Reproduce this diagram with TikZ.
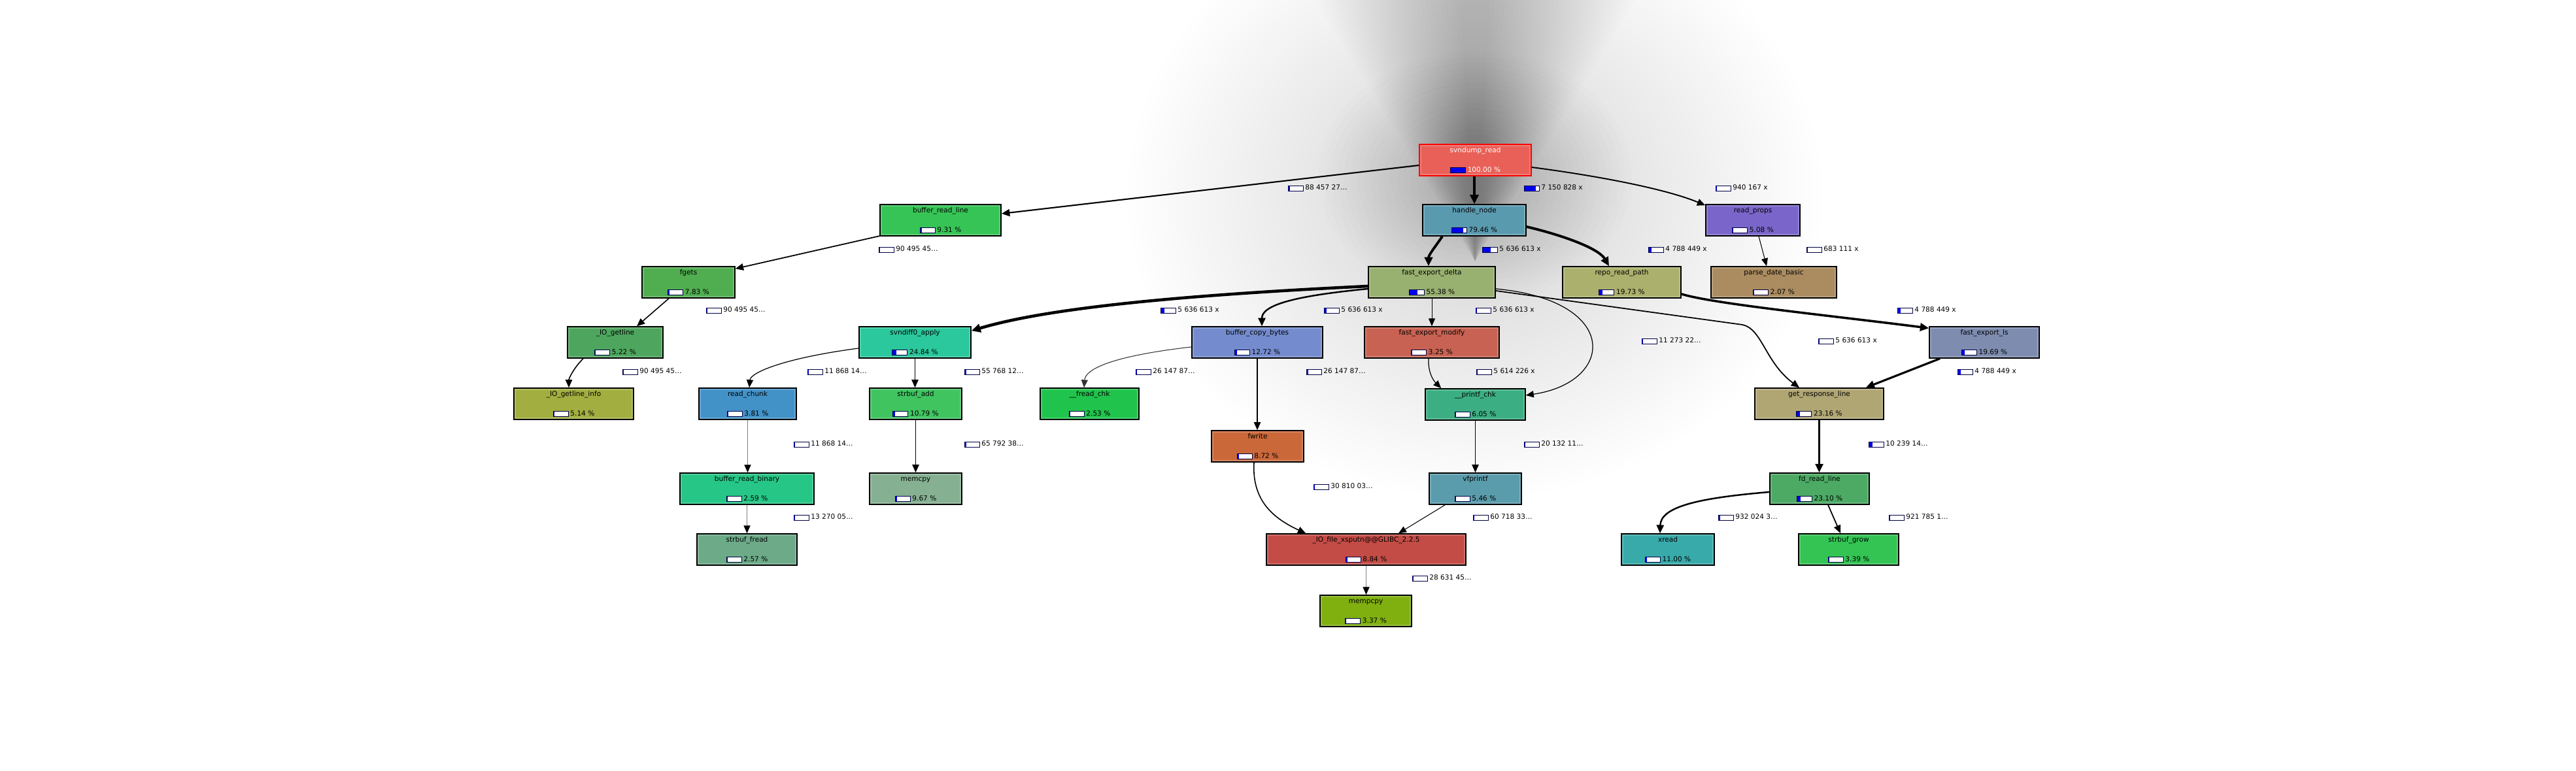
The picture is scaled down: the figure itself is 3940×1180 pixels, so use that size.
\documentclass[tikz,border=0pt]{standalone}
\usepackage{fontspec}
\setmainfont{DejaVu Sans}
\usetikzlibrary{arrows.meta,calc}
\newlength\barw \setlength\barw{6.2pt}
\definecolor{barb}{RGB}{0,0,70}
\definecolor{barf}{RGB}{0,0,240}
\newcommand\cbar[1]{\raisebox{-0.35pt}{\setlength\fboxsep{0pt}\setlength\fboxrule{0.3pt}\fcolorbox{barb}{white}{\textcolor{barf}{\rule{#1\barw}{2.0pt}}\hspace{\dimexpr\barw-#1\barw\relax}}}}
\newcommand\nfont{\fontsize{3.0}{8.53}\selectfont}
\newcommand\nm[1]{\rule{0pt}{2.4pt}#1}
\newcommand\pc[2]{\cbar{#1}\hspace{0.8pt}#2 \%}
\newcommand\el[2]{\cbar{#1}\hspace{0.8pt}#2}
\definecolor{cSR}{RGB}{233,96,88}
\definecolor{cHN}{RGB}{90,154,175}
\definecolor{cFED}{RGB}{152,176,112}
\definecolor{cRRP}{RGB}{171,177,108}
\definecolor{cRP}{RGB}{122,102,202}
\definecolor{cPDB}{RGB}{171,140,96}
\definecolor{cBRL}{RGB}{54,196,86}
\definecolor{cFG}{RGB}{80,174,80}
\definecolor{cIOG}{RGB}{78,166,94}
\definecolor{cIOGI}{RGB}{162,174,64}
\definecolor{cSDA}{RGB}{42,200,156}
\definecolor{cRC}{RGB}{66,146,200}
\definecolor{cSBA}{RGB}{64,196,96}
\definecolor{cBRB}{RGB}{38,198,134}
\definecolor{cMC}{RGB}{134,176,146}
\definecolor{cSFR}{RGB}{108,170,136}
\definecolor{cFRC}{RGB}{32,196,76}
\definecolor{cBCB}{RGB}{116,140,206}
\definecolor{cFEM}{RGB}{200,98,82}
\definecolor{cPC}{RGB}{60,174,132}
\definecolor{cFW}{RGB}{202,104,58}
\definecolor{cVFP}{RGB}{90,156,172}
\definecolor{cXS}{RGB}{196,76,70}
\definecolor{cMP}{RGB}{128,176,16}
\definecolor{cFEL}{RGB}{126,140,176}
\definecolor{cGRL}{RGB}{176,166,116}
\definecolor{cFRL}{RGB}{76,170,100}
\definecolor{cXR}{RGB}{56,170,170}
\definecolor{cSG}{RGB}{52,196,84}
\begin{document}
\begin{tikzpicture}[x=0.01cm,y=-0.01cm,
  fn/.style={rectangle, draw=black, line width=0.42pt, inner sep=0pt, minimum height=0.48cm,
    align=center, font=\nfont, text=black,
    path picture={\draw[white, opacity=0.2, line width=1.8pt] (path picture bounding box.south west) rectangle (path picture bounding box.north east);}},
  elab/.style={anchor=west, inner sep=0pt, font=\nfont, text=black},
  ed/.style={draw=black, -{Triangle[length=3.2pt 0.6, width=2.6pt 0.8]}},
  edg/.style={draw=black!50, -{Triangle[length=3.2pt 0.6, width=2.6pt 0.8, color=black]}}]
\useasboundingbox (0,0) rectangle (3940,1180);
\begin{scope}
\clip (0,0) rectangle (3940,1180);
\fill[white] (0,0) rectangle (3940,1180);
\foreach \i in {0,...,39} {
  \pgfmathsetmacro\rx{5.3-0.12*\i}
  \pgfmathsetmacro\ry{4.6-0.102*\i}
  \fill[black, fill opacity=0.005] (2256,300) ellipse [x radius=\rx cm, y radius=\ry cm];
}
\foreach \i in {0,...,29} {
  \pgfmathsetmacro\w{250-7.8*\i}
  \fill[black, fill opacity=0.0068] ({2256-\w},-10) -- ({2256+\w},-10) -- (2256,400) -- cycle;
}
\foreach \i in {0,...,19} {
  \pgfmathsetmacro\rx{2.4-0.1*\i}
  \pgfmathsetmacro\ry{1.9-0.078*\i}
  \fill[black, fill opacity=0.006] (2256,270) ellipse [x radius=\rx cm, y radius=\ry cm];
}
\end{scope}
% nodes
\node[fn, fill=cSR, draw=red, text=white, minimum width=1.71cm] (sr) at (2256.5,245) {\nm{svndump\_read}\\\pc{1}{100.00}};
\node[fn, fill=cHN, minimum width=1.58cm] (hn) at (2255,337) {\nm{handle\_node}\\\pc{0.7946}{79.46}};
\node[fn, fill=cFED, minimum width=1.94cm] (fed) at (2190,432) {\nm{fast\_export\_delta}\\\pc{0.5538}{55.38}};
\node[fn, fill=cRRP, minimum width=1.81cm] (rrp) at (2480.5,432) {\nm{repo\_read\_path}\\\pc{0.1973}{19.73}};
\node[fn, fill=cRP, minimum width=1.44cm] (rp) at (2681,337) {\nm{read\_props}\\\pc{0.0508}{5.08}};
\node[fn, fill=cPDB, minimum width=1.92cm] (pdb) at (2713,432) {\nm{parse\_date\_basic}\\\pc{0.0207}{2.07}};
\node[fn, fill=cBRL, minimum width=1.85cm] (brl) at (1438.5,337) {\nm{buffer\_read\_line}\\\pc{0.0931}{9.31}};
\node[fn, fill=cFG, minimum width=1.42cm] (fg) at (1053,432) {\nm{fgets}\\\pc{0.0783}{7.83}};
\node[fn, fill=cIOG, minimum width=1.46cm] (iog) at (941,524) {\nm{\_IO\_getline}\\\pc{0.0522}{5.22}};
\node[fn, fill=cIOGI, minimum width=1.83cm] (iogi) at (877.5,618) {\nm{\_IO\_getline\_info}\\\pc{0.0514}{5.14}};
\node[fn, fill=cSDA, minimum width=1.71cm] (sda) at (1399.5,524) {\nm{svndiff0\_apply}\\\pc{0.2484}{24.84}};
\node[fn, fill=cRC, minimum width=1.49cm] (rc) at (1143.5,618) {\nm{read\_chunk}\\\pc{0.0381}{3.81}};
\node[fn, fill=cSBA, minimum width=1.41cm] (sba) at (1400.5,618) {\nm{strbuf\_add}\\\pc{0.1079}{10.79}};
\node[fn, fill=cBRB, minimum width=2.05cm] (brb) at (1142.5,748) {\nm{buffer\_read\_binary}\\\pc{0.0259}{2.59}};
\node[fn, fill=cMC, minimum width=1.41cm] (mc) at (1400.5,748) {\nm{memcpy}\\\pc{0.0967}{9.67}};
\node[fn, fill=cSFR, minimum width=1.53cm] (sfr) at (1142.5,841) {\nm{strbuf\_fread}\\\pc{0.0257}{2.57}};
\node[fn, fill=cFRC, minimum width=1.51cm] (frc) at (1666.5,618) {\nm{\_\_fread\_chk}\\\pc{0.0253}{2.53}};
\node[fn, fill=cBCB, minimum width=2.00cm] (bcb) at (1923,524) {\nm{buffer\_copy\_bytes}\\\pc{0.1272}{12.72}};
\node[fn, fill=cFEM, minimum width=2.06cm] (fem) at (2190,524) {\nm{fast\_export\_modify}\\\pc{0.0325}{3.25}};
\node[fn, fill=cPC, minimum width=1.53cm] (pc) at (2256.5,619) {\nm{\_\_printf\_chk}\\\pc{0.0605}{6.05}};
\node[fn, fill=cFW, minimum width=1.41cm] (fw) at (1923.5,683) {\nm{fwrite}\\\pc{0.0872}{8.72}};
\node[fn, fill=cVFP, minimum width=1.41cm] (vfp) at (2256.5,748) {\nm{vfprintf}\\\pc{0.0546}{5.46}};
\node[fn, fill=cXS, minimum width=3.05cm] (xs) at (2089.5,841) {\nm{\_IO\_file\_xsputn@@GLIBC\_2.2.5}\\\pc{0.0884}{8.84}};
\node[fn, fill=cMP, minimum width=1.40cm] (mp) at (2089,935) {\nm{mempcpy}\\\pc{0.0337}{3.37}};
\node[fn, fill=cFEL, minimum width=1.68cm] (fel) at (3035,524) {\nm{fast\_export\_ls}\\\pc{0.1969}{19.69}};
\node[fn, fill=cGRL, minimum width=1.97cm] (grl) at (2782.5,618) {\nm{get\_response\_line}\\\pc{0.2316}{23.16}};
\node[fn, fill=cFRL, minimum width=1.52cm] (frl) at (2783,748) {\nm{fd\_read\_line}\\\pc{0.2310}{23.10}};
\node[fn, fill=cXR, minimum width=1.42cm] (xr) at (2551,841) {\nm{xread}\\\pc{0.1100}{11.00}};
\node[fn, fill=cSG, minimum width=1.53cm] (sg) at (2827.5,841) {\nm{strbuf\_grow}\\\pc{0.0339}{3.39}};
% edges
\draw[ed, line width=0.6pt] ($(sr.west)+(0,8)$) -- ($(brl.east)+(0,-10)$);
\draw[ed, line width=1.35pt] ($(sr.south)+(-1.5,0)$) -- (hn.north);
\draw[ed, line width=0.55pt] ($(sr.east)+(0,11)$) .. controls (2450,270) and (2550,290) .. ($(rp.north west)+(0,2)$);
\draw[ed, line width=1.1pt] ($(hn.south)+(-49,0)$) .. controls (2195,378) and (2185,390) .. ($(fed.north)+(-5,0)$);
\draw[ed, line width=1.1pt] ($(hn.east)+(0,10)$) .. controls (2390,360) and (2445,380) .. ($(rrp.north)+(-19.5,0)$);
\draw[ed, line width=0.3pt] ($(rp.south)+(9,0)$) -- ($(pdb.north)+(-11,0)$);
\draw[ed, line width=0.5pt] ($(brl.south west)+(2,-1)$) -- ($(fg.north east)+(0,4)$);
\draw[ed, line width=0.45pt] ($(fg.south)+(-30,0)$) -- ($(iog.north)+(33,0)$);
\draw[ed, line width=0.45pt] ($(iog.south)+(-49,0)$) .. controls (876,565) and (870,580) .. ($(iogi.north)+(-7.5,0)$);
\draw[ed, line width=1.3pt] ($(fed.west)+(0,6)$) .. controls (1800,452) and (1600,472) .. ($(sda.north east)+(0,7)$);
\draw[ed, line width=0.7pt] ($(fed.west)+(0,10)$) .. controls (1990,452) and (1930,465) .. ($(bcb.north)+(7,0)$);
\draw[ed, line width=0.3pt] (fed.south) -- (fem.north);
\draw[ed, line width=0.35pt] ($(fed.east)+(0,10)$) .. controls (2480,460) and (2470,585) .. ($(pc.east)+(0,-14)$);
\draw[ed, line width=0.5pt] ($(fed.east)+(0,13)$) -- (2665,497) .. controls (2695,503) and (2700,555) .. ($(grl.north)+(-30.5,0)$);
\draw[ed, line width=1.0pt] ($(rrp.east)+(0,18)$) .. controls (2620,465) and (2800,483) .. ($(fel.north west)+(0,3)$);
\draw[ed, line width=0.9pt] ($(fel.south west)+(17,0)$) -- ($(grl.north east)+(-28,0)$);
\draw[ed, line width=0.9pt] (grl.south) -- (grl.south |- frl.north);
\draw[ed, line width=0.7pt] ($(frl.west)+(0,5)$) .. controls (2600,762) and (2540,775) .. ($(xr.north)+(-12,0)$);
\draw[ed, line width=0.5pt] ($(frl.south)+(13,0)$) -- ($(sg.north)+(-12.5,0)$);
\draw[ed, line width=0.35pt] ($(sda.west)+(0,9)$) .. controls (1200,548) and (1148,570) .. ($(rc.north)+(2.5,0)$);
\draw[ed, line width=0.45pt] (sda.south) -- (sda.south |- sba.north);
\draw[ed, line width=0.3pt, draw=black!80] ($(bcb.west)+(0,7)$) .. controls (1700,545) and (1660,565) .. ($(frc.north)+(-8.5,0)$);
\draw[ed, line width=0.45pt] (bcb.south) -- (bcb.south |- fw.north);
\draw[ed, line width=0.35pt] ($(fem.south)+(-5,0)$) .. controls (2184,570) and (2192,582) .. ($(pc.north west)+(25,0)$);
\draw[edg, line width=0.35pt] (rc.south) -- (rc.south |- brb.north);
\draw[ed, line width=0.45pt] (sba.south) -- (sba.south |- mc.north);
\draw[edg, line width=0.35pt] (brb.south) -- (brb.south |- sfr.north);
\draw[ed, line width=0.45pt] (pc.south) -- (pc.south |- vfp.north);
\draw[ed, line width=0.45pt] ($(fw.south)+(-5.5,0)$) .. controls (1915,760) and (1940,790) .. ($(xs.north west)+(61,0)$);
\draw[ed, line width=0.3pt] ($(vfp.south west)+(25,0)$) -- ($(xs.north)+(49.5,0)$);
\draw[edg, line width=0.35pt] (xs.south) -- (xs.south |- mp.north);
% edge labels
\node[elab] (l1) at (1969,288) {\el{0.093}{88 457 27…}};
\node[elab] (l2) at (2330,288) {\el{0.795}{7 150 828 x}};
\node[elab] (l3) at (2623,288) {\el{0.05}{940 167 x}};
\node[elab] (l4) at (2266,382) {\el{0.554}{5 636 613 x}};
\node[elab] (l5) at (2520,382) {\el{0.197}{4 788 449 x}};
\node[elab] (l6) at (2762,382) {\el{0.02}{683 111 x}};
\node[elab] (l7) at (1343,382) {\el{0.078}{90 495 45…}};
\node[elab] (l8) at (1079,475) {\el{0.052}{90 495 45…}};
\node[elab] (l9) at (951,569) {\el{0.051}{90 495 45…}};
\node[elab] (l10) at (1774,475) {\el{0.248}{5 636 613 x}};
\node[elab] (l11) at (2024,475) {\el{0.127}{5 636 613 x}};
\node[elab] (l12) at (2256,475) {\el{0.032}{5 636 613 x}};
\node[elab] (l13) at (2510,522) {\el{0.028}{11 273 22…}};
\node[elab] (l14) at (2780,522) {\el{0.035}{5 636 613 x}};
\node[elab] (l15) at (2901,475) {\el{0.197}{4 788 449 x}};
\node[elab] (l16) at (2993,569) {\el{0.196}{4 788 449 x}};
\node[elab] (l17) at (2857,680) {\el{0.23}{10 239 14…}};
\node[elab] (l18) at (2627,792) {\el{0.11}{932 024 3…}};
\node[elab] (l19) at (2888,792) {\el{0.034}{921 785 1…}};
\node[elab] (l20) at (1234,569) {\el{0.038}{11 868 14…}};
\node[elab] (l21) at (1474,569) {\el{0.108}{55 768 12…}};
\node[elab] (l22) at (1736,569) {\el{0.025}{26 147 87…}};
\node[elab] (l23) at (1997,569) {\el{0.087}{26 147 87…}};
\node[elab] (l24) at (2257,569) {\el{0.032}{5 614 226 x}};
\node[elab] (l25) at (1213,680) {\el{0.026}{11 868 14…}};
\node[elab] (l26) at (1474,680) {\el{0.097}{65 792 38…}};
\node[elab] (l27) at (1213,792) {\el{0.026}{13 270 05…}};
\node[elab] (l28) at (2330,680) {\el{0.055}{20 132 11…}};
\node[elab] (l29) at (2008,745) {\el{0.035}{30 810 03…}};
\node[elab] (l30) at (2252,792) {\el{0.053}{60 718 33…}};
\node[elab] (l31) at (2159,885) {\el{0.034}{28 631 45…}};
\end{tikzpicture}
\end{document}
